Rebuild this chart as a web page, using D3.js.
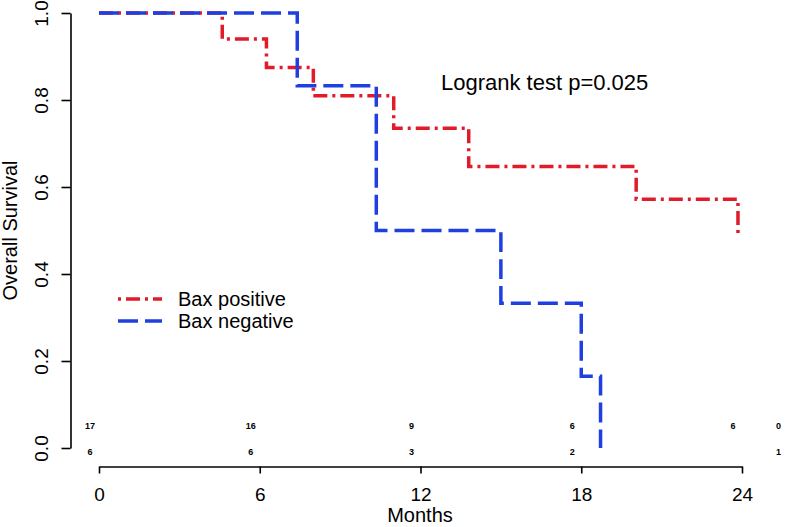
<!DOCTYPE html>
<html>
<head>
<meta charset="utf-8">
<script src="https://cdn.jsdelivr.net/npm/d3@7"></script>
<style>
  html, body { margin: 0; padding: 0; background: #fff; }
  svg { display: block; }
  text { font-family: "Liberation Sans", Arial, sans-serif; fill: #000; }
</style>
</head>
<body>
<svg id="chart" width="790" height="527"></svg>
<script>
// ---- data ----
const posTimes = [0, 4.6, 6.25, 8.0, 11.0, 13.8, 20.05, 23.85];
const posSurv  = [1, 0.94, 0.875, 0.81, 0.735, 0.647, 0.572, 0.484];
const negTimes = [0, 7.4, 10.35, 15.0, 18.0, 18.72];
const negSurv  = [1, 0.833, 0.5, 0.333, 0.165, 0];
const xTicks = [0, 6, 12, 18, 24];
const yTicks = [0, 0.2, 0.4, 0.6, 0.8, 1.0];
const yTickLabels = ["0.0", "0.2", "0.4", "0.6", "0.8", "1.0"];
const riskTimes = [0, 6, 12, 18, 24, 25.7];
const riskPos = ["17", "16", "9", "6", "6", "0"];
const riskNeg = ["6", "6", "3", "2", "", "1"];
const seriesNames = ["Bax positive", "Bax negative"];
const pvalueText = "Logrank test p=0.025";

const RED = "#e21b2b", BLUE = "#1f3fe0";

const svg = d3.select("#chart");
const x = d3.scaleLinear().domain([0, 24]).range([99, 742]);
const y = d3.scaleLinear().domain([0, 1]).range([448, 13]);

// y axis
const yAxis = d3.axisLeft(y).tickValues(yTicks)
  .tickFormat((d, i) => yTickLabels[i]).tickSize(9).tickSizeOuter(0);
const gy = svg.append("g").attr("transform", "translate(70.5,0)").call(yAxis);
gy.select(".domain").attr("stroke", "#000").attr("stroke-width", 1.6);
gy.selectAll(".tick line").attr("stroke", "#000").attr("stroke-width", 1.6);
gy.selectAll(".tick text")
  .attr("font-size", 19).attr("x", 0).attr("dy", 0)
  .attr("text-anchor", "middle")
  .attr("transform", "translate(-23,0) rotate(-90)")
  .attr("font-family", "Liberation Sans, Arial, sans-serif");

// x axis
const xAxis = d3.axisBottom(x).tickValues(xTicks).tickSize(7).tickSizeOuter(0);
const gx = svg.append("g").attr("transform", "translate(0,466.5)").call(xAxis);
gx.select(".domain").attr("stroke", "#000").attr("stroke-width", 1.6);
gx.selectAll(".tick line").attr("stroke", "#000").attr("stroke-width", 1.6);
gx.selectAll(".tick text").attr("font-size", 19).attr("y", 0).attr("dy", "1.8em")
  .attr("font-family", "Liberation Sans, Arial, sans-serif");

// axis titles
svg.append("text").attr("x", 420).attr("y", 522).attr("text-anchor", "middle")
  .attr("font-size", 20).text("Months");
svg.append("text").attr("transform", `translate(17,${(y(0) + y(1)) / 2}) rotate(-90)`)
  .attr("text-anchor", "middle").attr("font-size", 20).text("Overall Survival");

// curves
const line = d3.line().x(d => x(d[0])).y(d => y(d[1])).curve(d3.curveStepAfter);
const posData = posTimes.map((t, i) => [t, posSurv[i]]);
const negData = negTimes.map((t, i) => [t, negSurv[i]]);

svg.append("path").datum(posData).attr("d", line)
  .attr("fill", "none").attr("stroke", RED).attr("stroke-width", 3.5)
  .attr("stroke-dasharray", "14,5,3,5");
svg.append("path").datum(negData).attr("d", line)
  .attr("fill", "none").attr("stroke", BLUE).attr("stroke-width", 3.5)
  .attr("stroke-dasharray", "20,7");

// p-value
svg.append("text").attr("x", 441).attr("y", 90).attr("font-size", 22).text(pvalueText);

// legend
const legend = svg.append("g");
const legItems = [
  { name: seriesNames[0], color: RED, dash: "3,5,14,5", yy: 299 },
  { name: seriesNames[1], color: BLUE, dash: "20,7", yy: 321 }
];
legItems.forEach(it => {
  legend.append("line").attr("x1", 118).attr("x2", 162).attr("y1", it.yy).attr("y2", it.yy)
    .attr("stroke", it.color).attr("stroke-width", 3.5).attr("stroke-dasharray", it.dash);
  legend.append("text").attr("x", 178).attr("y", it.yy + 7).attr("font-size", 20).text(it.name);
});

// at-risk numbers
const risk = svg.append("g").attr("font-size", 9).attr("font-weight", "bold");
riskTimes.forEach((t, i) => {
  risk.append("text").attr("x", x(t) - 9).attr("y", 429).attr("text-anchor", "middle").text(riskPos[i]);
  risk.append("text").attr("x", x(t) - 9).attr("y", 455).attr("text-anchor", "middle").text(riskNeg[i]);
});
</script>
</body>
</html>
